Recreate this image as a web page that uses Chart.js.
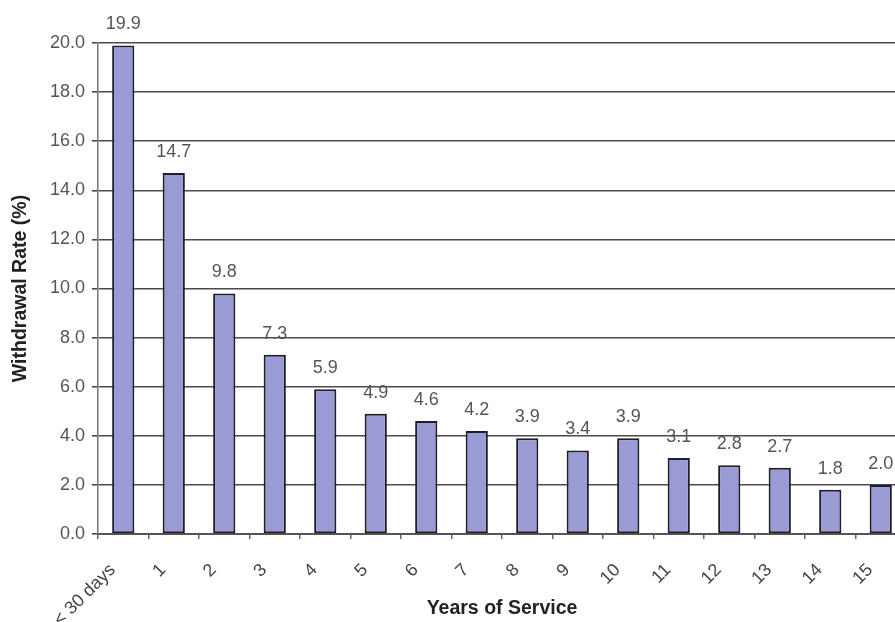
<!DOCTYPE html>
<html>
<head>
<meta charset="utf-8">
<script src="https://cdn.jsdelivr.net/npm/chart.js@4/dist/chart.umd.min.js"></script>
<style>
  html, body { margin: 0; padding: 0; background: #fff; overflow: hidden; }
  #wrap { width: 912px; height: 622px; }
</style>
</head>
<body>
<div id="wrap"><canvas id="c" width="912" height="622"></canvas></div>
<script>
// Withdrawal rate by years of service
const categories = ['< 30 days', '1', '2', '3', '4', '5', '6', '7', '8', '9', '10', '11', '12', '13', '14', '15'];
const withdrawalRates = [19.9, 14.7, 9.8, 7.3, 5.9, 4.9, 4.6, 4.2, 3.9, 3.4, 3.9, 3.1, 2.8, 2.7, 1.8, 2.0];
const yTicks = [0, 2, 4, 6, 8, 10, 12, 14, 16, 18, 20];

const FONT = '"Liberation Sans", Arial, sans-serif';

// Value labels drawn above each bar
const valueLabels = {
  id: 'valueLabels',
  afterDatasetsDraw(chart) {
    const ctx = chart.ctx;
    const meta = chart.getDatasetMeta(0);
    const data = chart.data.datasets[0].data;
    ctx.save();
    ctx.font = '18px ' + FONT;
    ctx.fillStyle = '#555';
    ctx.textAlign = 'center';
    ctx.textBaseline = 'bottom';
    meta.data.forEach((bar, i) => {
      ctx.fillText(data[i].toFixed(1), bar.x, bar.y - 12);
    });
    ctx.restore();
  }
};

new Chart(document.getElementById('c'), {
  type: 'bar',
  data: {
    labels: categories,
    datasets: [{
      data: withdrawalRates,
      backgroundColor: '#9a9ad5',
      borderColor: '#1e1e2a',
      borderWidth: 2,
      borderSkipped: false,
      categoryPercentage: 1.0,
      barPercentage: 0.44
    }]
  },
  options: {
    responsive: false,
    animation: false,
    layout: { padding: { top: 43, right: 6, bottom: 0, left: 0 } },
    plugins: { legend: { display: false }, tooltip: { enabled: false } },
    scales: {
      x: {
        offset: true,
        grid: {
          offset: true,
          drawOnChartArea: false,
          drawTicks: true,
          tickLength: 5,
          color: '#666',
          lineWidth: 1.5
        },
        border: { display: true, color: '#555', width: 2 },
        ticks: {
          autoSkip: false,
          maxRotation: 45,
          minRotation: 45,
          padding: 10,
          color: '#444',
          font: { family: FONT, size: 18 },
          // trailing gap keeps each slanted label clear of its tick
          callback(v) { return this.getLabelForValue(v) + '   '; }
        },
        title: {
          display: true,
          text: 'Years of Service',
          color: '#222',
          font: { family: FONT, size: 19.5, weight: 'bold' },
          padding: { top: 0, bottom: 2 }
        },
        afterFit(scale) { scale.height = 88; }
      },
      y: {
        min: 0,
        max: 20,
        afterBuildTicks(scale) { scale.ticks = yTicks.map(v => ({ value: v })); },
        grid: {
          color: '#4a4a4a',
          lineWidth: 1.6,
          drawTicks: true,
          tickLength: 6
        },
        border: { display: true, color: '#777', width: 1.5 },
        ticks: {
          padding: 7,
          color: '#555',
          font: { family: FONT, size: 18 },
          callback: (v) => Number(v).toFixed(1)
        },
        title: {
          display: true,
          text: 'Withdrawal Rate (%)',
          color: '#222',
          font: { family: FONT, size: 19.5, weight: 'bold' },
          padding: { top: 9, bottom: 0 }
        },
        afterFit(scale) { scale.width = 98; }
      }
    }
  },
  plugins: [valueLabels]
});
</script>
</body>
</html>
